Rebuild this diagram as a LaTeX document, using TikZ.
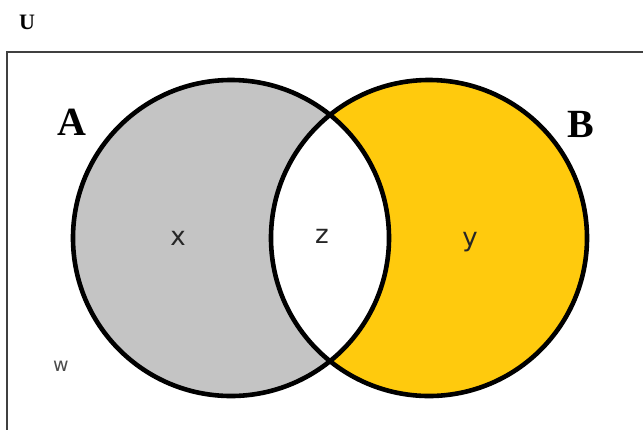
\documentclass[tikz,border=0pt]{standalone}
\usepackage{fontspec}
\setmainfont{Liberation Serif}
\newfontfamily\lblfont{DejaVu Sans}
\begin{document}
\begin{tikzpicture}[x=1pt,y=-1pt,
  setline/.style={line width=4.6pt, draw=black},
  biglbl/.style={font=\fontsize{40}{40}\selectfont\bfseries, text=black},
  smalllbl/.style={font=\lblfont\fontsize{26}{26}\selectfont, text=black!85}]
\useasboundingbox (0,0) rectangle (643,429);
\definecolor{grayfill}{HTML}{C4C4C4}
\definecolor{yellowfill}{HTML}{FFCA0D}
\draw[line width=2pt, draw=black!75] (7,52) rectangle (660,450);
\fill[grayfill] (231,238) circle (158);
\fill[yellowfill] (429,238) circle (158);
\begin{scope}
  \clip (231,238) circle (158);
  \fill[white] (429,238) circle (158);
\end{scope}
\draw[setline] (231,238) circle (158);
\draw[setline] (429,238) circle (158);
\node[font=\fontsize{22}{22}\selectfont\bfseries] (U) at (27,22) {U};
\node[biglbl] (A) at (72,122) {A};
\node[biglbl] (B) at (581,124) {B};
\node[smalllbl] (x) at (178,238) {x};
\node[smalllbl] (z) at (322,236) {z};
\node[smalllbl] (y) at (470,242) {y};
\node[smalllbl, font=\lblfont\fontsize{19}{19}\selectfont, text=black!70] (w) at (61,366) {w};
\end{tikzpicture}
\end{document}
